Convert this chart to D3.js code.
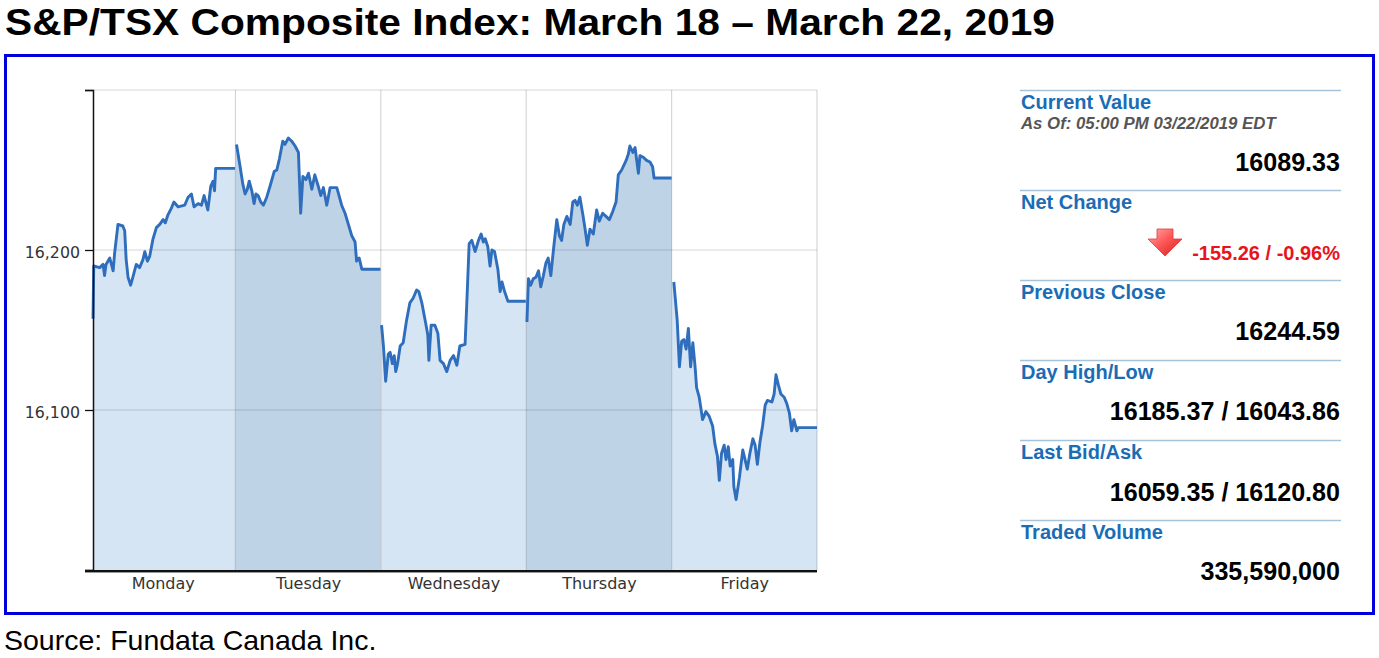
<!DOCTYPE html>
<html><head><meta charset="utf-8">
<script src="https://cdn.jsdelivr.net/npm/d3@7"></script>
<style>body{margin:0;background:#fff;} svg{display:block}</style>
</head><body><svg id="c" width="1379" height="658"></svg>
<script>
// ---- data: [minutes since open, index value] ----
const days = ["Monday","Tuesday","Wednesday","Thursday","Friday"];
const mondayData = [[8,16157],[10,16190],[26,16189],[35,16191],[39,16184],[43,16191],[53,16195],[62,16187],[66,16198],[75,16216],[88,16215],[93,16212],[97,16194],[102,16183],[109,16178],[115,16183],[124,16191],[133,16189],[142,16194],[147,16199],[154,16193],[160,16196],[169,16207],[178,16214],[187,16216],[196,16219],[202,16217],[209,16222],[218,16226],[225,16230],[236,16227],[254,16228],[263,16233],[272,16235],[279,16227],[290,16229],[299,16228],[306,16234],[316,16225],[324,16240],[330,16243],[334,16237],[337,16251],[389,16251]];
const tuesdayData = [[3,16266],[12,16253],[20,16241],[26,16235],[32,16238],[37,16243],[44,16237],[50,16229],[55,16235],[61,16234],[68,16230],[75,16228],[84,16233],[93,16240],[104,16249],[111,16250],[118,16257],[127,16268],[133,16266],[142,16270],[151,16268],[160,16265],[169,16261],[175,16223],[181,16246],[189,16244],[196,16248],[205,16238],[213,16247],[222,16240],[229,16234],[236,16239],[245,16228],[254,16239],[272,16239],[285,16228],[294,16223],[303,16216],[312,16209],[321,16205],[325,16193],[332,16195],[339,16188],[389,16188]];
const wednesdayData = [[2,16153],[7,16140],[13,16118],[20,16135],[25,16136],[31,16129],[36,16134],[40,16124],[45,16129],[52,16140],[60,16142],[69,16156],[78,16167],[87,16170],[96,16175],[102,16174],[110,16167],[119,16156],[126,16147],[129,16131],[135,16153],[145,16153],[153,16148],[159,16131],[168,16129],[177,16124],[186,16131],[195,16134],[204,16128],[212,16140],[226,16141],[230,16163],[237,16204],[244,16206],[253,16199],[262,16206],[269,16210],[275,16205],[280,16207],[287,16202],[293,16190],[298,16200],[305,16199],[314,16188],[320,16174],[325,16180],[332,16174],[341,16168],[389,16168]];
const thursdayData = [[2,16155],[6,16182],[12,16178],[19,16182],[26,16183],[33,16187],[39,16177],[46,16184],[53,16192],[59,16195],[66,16184],[73,16200],[82,16219],[89,16209],[95,16206],[101,16216],[109,16221],[118,16216],[125,16230],[131,16231],[137,16228],[144,16233],[152,16222],[158,16213],[164,16203],[171,16213],[180,16210],[189,16225],[196,16218],[205,16223],[214,16221],[223,16219],[232,16224],[241,16230],[247,16247],[256,16250],[268,16256],[274,16260],[278,16265],[286,16261],[292,16264],[301,16248],[305,16259],[314,16258],[323,16256],[332,16255],[339,16252],[343,16245],[390,16245]];
const fridayData = [[6,16180],[9,16172],[15,16156],[21,16127],[27,16143],[33,16144],[39,16138],[45,16151],[51,16127],[57,16142],[63,16127],[67,16114],[74,16108],[78,16102],[83,16094],[92,16099],[101,16096],[110,16090],[116,16079],[123,16071],[128,16056],[134,16073],[141,16078],[146,16069],[152,16077],[157,16065],[164,16069],[167,16052],[173,16044],[182,16058],[191,16075],[197,16069],[203,16063],[210,16073],[218,16082],[224,16078],[230,16066],[237,16080],[244,16090],[251,16103],[257,16106],[269,16105],[275,16110],[280,16122],[286,16116],[293,16110],[302,16108],[309,16104],[316,16098],[322,16087],[328,16094],[336,16087],[340,16089],[390,16089]];
const dayData = [mondayData, tuesdayData, wednesdayData, thursdayData, fridayData];
const minutesPerDay = 390;
const yTicks = [16000,16100,16200,16300];
const yTickLabels = ["","16,100","16,200",""];
const panelLabels = ["Current Value","Net Change","Previous Close","Day High/Low","Last Bid/Ask","Traded Volume"];
const panelValues = ["16089.33","-155.26 / -0.96%","16244.59","16185.37 / 16043.86","16059.35 / 16120.80","335,590,000"];
const asOfText = "As Of: 05:00 PM 03/22/2019 EDT";
const titleText = "S&P/TSX Composite Index: March 18 \u2013 March 22, 2019";
const sourceText = "Source: Fundata Canada Inc.";

// ---- drawing ----
const svg = d3.select("#c");
const L = 93, R = 817, T = 90, B = 570;
const x = d3.scaleLinear().domain([8/minutesPerDay, days.length]).range([L, R]);
const y = d3.scaleLinear().domain([16000, 16300]).range([B, T]);

svg.append("text").attr("x", 5).attr("y", 35).text(titleText)
  .attr("font-family", "Liberation Sans, Arial, sans-serif").attr("font-weight", "bold")
  .attr("font-size", 36.5).attr("textLength", 1050).attr("lengthAdjust", "spacingAndGlyphs").attr("fill", "#000");

svg.append("rect").attr("x", 5.5).attr("y", 55.5).attr("width", 1368).attr("height", 558)
  .attr("fill", "none").attr("stroke", "#0000dd").attr("stroke-width", 3);

svg.append("text").attr("x", 4).attr("y", 650).text(sourceText)
  .attr("font-family", "Liberation Sans, Arial, sans-serif").attr("font-size", 28.5).attr("fill", "#000");

const fills = ["#d6e5f3", "#bfd3e7"];
const plot = svg.append("g");
const area = d3.area().x(d => x(d.t)).y0(B).y1(d => y(d.v));
const line = d3.line().x(d => x(d.t)).y(d => y(d.v));
dayData.forEach((arr, i) => {
  const pts = arr.map(p => ({t: i + p[0]/minutesPerDay, v: p[1]}));
  // area fill spans the whole day: start it at the day boundary (or axis)
  const startT = Math.max(i, x.domain()[0]);
  const areaPts = [{t: startT, v: pts[0].v}, ...pts];
  plot.append("path").datum(areaPts).attr("d", area).attr("fill", fills[i % 2]);
});
// grid
const grid = svg.append("g").attr("stroke", "rgba(0,0,0,0.16)").attr("stroke-width", 1.2);
yTicks.filter(v => v > 16000).forEach(v => {
  grid.append("line").attr("x1", L).attr("x2", R).attr("y1", y(v)).attr("y2", y(v));
});
d3.range(1, days.length + 1).forEach(d => {
  grid.append("line").attr("x1", x(d)).attr("x2", x(d)).attr("y1", T).attr("y2", B);
});
dayData.forEach((arr, i) => {
  const pts = arr.map(p => ({t: i + p[0]/minutesPerDay, v: p[1]}));
  svg.append("path").datum(pts).attr("d", line).attr("fill", "none")
    .attr("stroke", "#2e6ebd").attr("stroke-width", 2.9).attr("stroke-linejoin", "round");
});

// y axis
const yAxis = d3.axisLeft(y).tickValues(yTicks).tickSize(8).tickPadding(5)
  .tickFormat((d, i) => yTickLabels[i]);
const ya = svg.append("g").attr("transform", `translate(${L},0)`).call(yAxis);
ya.select(".domain").attr("stroke", "#111").attr("stroke-width", 1.5);
ya.selectAll(".tick line").attr("stroke", "#111").attr("stroke-width", 1.3);
ya.selectAll("text").attr("font-family", "DejaVu Sans, sans-serif").attr("font-size", 15.8)
  .attr("fill", "#333").attr("dy", "0.45em");

// x axis (day labels centred in each day)
const xAxis = d3.axisBottom(x).tickValues(days.map((d, i) => i + 0.5)).tickSize(0).tickPadding(8)
  .tickFormat((d, i) => days[i]);
const xa = svg.append("g").attr("transform", `translate(0,${B})`).call(xAxis);
xa.select(".domain").remove();
xa.selectAll("text").attr("font-family", "DejaVu Sans, sans-serif").attr("font-size", 16).attr("fill", "#333");
svg.append("line").attr("x1", 85).attr("x2", R).attr("y1", B + 1).attr("y2", B + 1)
  .attr("stroke", "#111").attr("stroke-width", 2);
svg.append("line").attr("x1", 85).attr("x2", R).attr("y1", B + 2.5).attr("y2", B + 2.5)
  .attr("stroke", "#999").attr("stroke-width", 1);

// ---- right panel ----
const PL = 1020, PR = 1341;
const rowTops = [90, 190, 280, 360, 440, 520];
const valueOffsets = [81, 70, 60, 60, 61, 60];
const panel = svg.append("g");
panelLabels.forEach((lab, i) => {
  const top = rowTops[i];
  panel.append("line").attr("x1", PL).attr("x2", PR).attr("y1", top + 0.5).attr("y2", top + 0.5)
    .attr("stroke", "#a7c3dc").attr("stroke-width", 1.3);
  panel.append("text").attr("x", PL + 1).attr("y", top + 19).text(lab)
    .attr("font-family", "Liberation Sans, Arial, sans-serif").attr("font-weight", "bold")
    .attr("font-size", 20).attr("fill", "#1a6db5");
  const isChange = i === 1;
  panel.append("text").attr("x", PR - 1).attr("y", top + valueOffsets[i]).text(panelValues[i])
    .attr("text-anchor", "end").attr("font-family", "Liberation Sans, Arial, sans-serif")
    .attr("font-weight", "bold").attr("font-size", isChange ? 20 : 25.1)
    .attr("fill", isChange ? "#e8141c" : "#000");
});
panel.append("text").attr("x", PL + 1).attr("y", 129).text(asOfText)
  .attr("font-family", "Liberation Sans, Arial, sans-serif").attr("font-weight", "bold")
  .attr("font-style", "italic").attr("font-size", 16.8).attr("fill", "#555");

// red down arrow icon
const defs = svg.append("defs");
const g = defs.append("linearGradient").attr("id", "rg").attr("x1", 0).attr("y1", 0).attr("x2", 1).attr("y2", 1);
g.append("stop").attr("offset", "0%").attr("stop-color", "#ffb0b0");
g.append("stop").attr("offset", "45%").attr("stop-color", "#ff5a5a");
g.append("stop").attr("offset", "100%").attr("stop-color", "#d81818");
const ax = 1165, ay = 229;
svg.append("path")
  .attr("d", `M${ax-8},${ay} L${ax+8},${ay} L${ax+8},${ay+10} L${ax+17},${ay+10} L${ax},${ay+27} L${ax-17},${ay+10} L${ax-8},${ay+10} Z`)
  .attr("fill", "url(#rg)").attr("stroke", "#e03a3a").attr("stroke-width", 0.8);
</script></body></html>
